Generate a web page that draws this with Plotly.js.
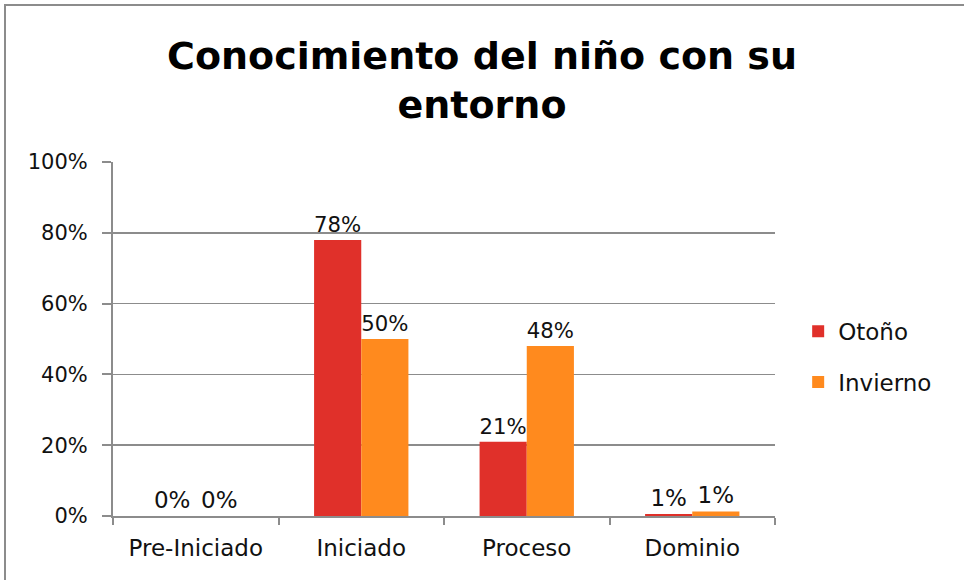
<!DOCTYPE html>
<html>
<head>
<meta charset="utf-8">
<script src="https://cdn.plot.ly/plotly-3.0.1.min.js"></script>
<style>
  html, body { margin: 0; padding: 0; background: #fff; }
  #wrap { position: relative; width: 964px; height: 580px; }
  #frame { position: absolute; left: 4px; top: 4px; width: 960px; height: 576px;
           border-top: 2px solid #8c8c8c; border-left: 2px solid #8c8c8c; box-sizing: border-box; pointer-events: none; }
  #chart { position: absolute; left: 0; top: 0; width: 964px; height: 580px; }
</style>
</head>
<body>
<div id="wrap">
  <div id="chart"></div>
  <div id="frame"></div>
</div>
<script>
const categories = ["Pre-Iniciado", "Iniciado", "Proceso", "Dominio"];
const otono = [0, 0.78, 0.21, 0.006];
const invierno = [0, 0.50, 0.48, 0.013];
const seriesNames = ["Otoño", "Invierno"];
const yTickVals = [0, 0.2, 0.4, 0.6, 0.8, 1.0];
const yTickText = ["0%", "20%", "40%", "60%", "80%", "100%"];

const FONT = "'DejaVu Sans', sans-serif";

const traces = [
  {
    type: "bar", name: seriesNames[0], x: categories, y: otono, legendgroup: "a",
    marker: { color: "#E0302A" },
    texttemplate: "%{y:.0%}", textposition: "outside", cliponaxis: false,
    textfont: { size: 23, color: "#111", family: FONT }
  },
  {
    type: "bar", name: seriesNames[1], x: categories, y: invierno, legendgroup: "b",
    marker: { color: "#FF8A1E" },
    texttemplate: "%{y:.0%}", textposition: "outside", cliponaxis: false,
    textfont: { size: 23, color: "#111", family: FONT }
  }
];

const layout = {
  width: 964, height: 580,
  margin: { l: 113, r: 189, t: 162, b: 64 },
  paper_bgcolor: "#fff", plot_bgcolor: "#fff",
  font: { family: FONT, color: "#111" },
  title: {
    text: "<b>Conocimiento del niño con su<br>entorno</b>",
    font: { size: 38, family: FONT, color: "#000" },
    x: 0.5, xanchor: "center", xref: "container", y: 0.881, yanchor: "middle", yref: "container"
  },
  barmode: "group", bargap: 0.43, bargroupgap: 0,
  xaxis: {
    type: "category", tickson: "boundaries", ticks: "outside", ticklen: 7,
    tickcolor: "#8c8c8c", tickwidth: 2,
    showline: true, linecolor: "#8c8c8c", linewidth: 2,
    tickfont: { size: 23, family: FONT, color: "#111" },
    ticklabelstandoff: 10,
    showgrid: false, fixedrange: true
  },
  yaxis: {
    range: [0, 1], tickvals: yTickVals, ticktext: yTickText,
    ticks: "outside", ticklen: 9, tickcolor: "#8c8c8c", tickwidth: 2,
    showline: true, linecolor: "#8c8c8c", linewidth: 2,
    showgrid: true, gridcolor: "#8c8c8c", gridwidth: 1.5,
    zeroline: false,
    tickfont: { size: 21, family: FONT, color: "#111" },
    ticklabelstandoff: 10,
    fixedrange: true
  },
  legend: {
    x: 1.035, xanchor: "left", y: 0.45, yanchor: "middle",
    font: { size: 23, family: FONT, color: "#111" },
    traceorder: "grouped", tracegroupgap: 18,
    itemwidth: 30, bgcolor: "rgba(0,0,0,0)"
  },
  showlegend: true
};

Plotly.newPlot("chart", traces, layout, { displayModeBar: false, staticPlot: true });
</script>
</body>
</html>
